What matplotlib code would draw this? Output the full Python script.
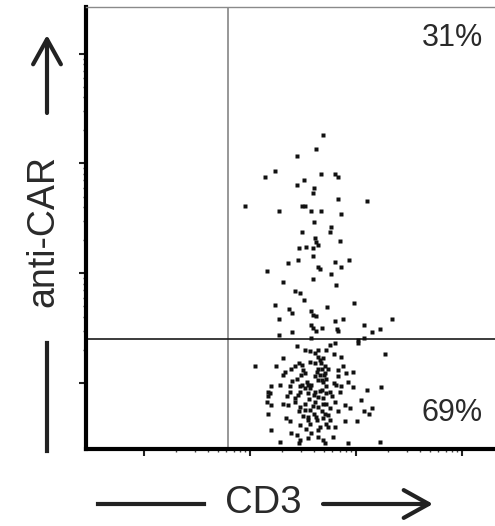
import numpy as np
import matplotlib
matplotlib.use("Agg")
import matplotlib.pyplot as plt
from matplotlib.lines import Line2D

# ---- data (log10 fluorescence intensity) ----
cd3_upper_log10 = [3.69,3.62,3.44,3.14,3.24,3.67,3.80,3.83,3.51,3.44,3.60,3.59,2.95,3.83,4.10,3.27,3.49,3.52,3.58,3.67,
                   3.86,3.60,3.76,3.75,3.49,3.61,3.62,3.64,3.85,3.46,3.53,3.59,3.59,3.36,3.45,3.80,3.93,3.86,3.16,3.64,
                   3.66,3.76,3.31,3.59,3.81,3.42,3.47,3.51,3.98,3.24,3.37,3.40,3.58,3.59,3.62,3.73,3.27,3.58,3.59,3.62,
                   3.68,3.80,3.88,4.08,4.34,3.82,3.83,4.15,4.23,3.27,3.40,3.58,4.08]
car_upper_log10 = [4.26,4.13,4.07,3.88,3.93,3.90,3.90,3.88,3.85,3.80,3.78,3.73,3.61,3.68,3.66,3.57,3.61,3.61,3.57,3.57,
                   3.54,3.47,3.42,3.38,3.38,3.32,3.28,3.26,3.29,3.23,3.24,3.23,3.16,3.09,3.12,3.10,3.12,3.06,3.02,3.06,
                   3.04,2.99,2.92,2.95,2.89,2.84,2.82,2.76,2.73,2.71,2.67,2.64,2.66,2.62,2.61,2.69,2.58,2.53,2.50,2.47,
                   2.50,2.56,2.58,2.53,2.58,2.49,2.47,2.46,2.49,2.44,2.46,2.41,2.41]

cd3_lower_log10 = [3.44,3.52,3.57,3.61,3.64,3.31,3.05,3.25,3.39,3.42,3.49,3.50,3.52,3.57,3.61,3.66,3.68,3.31,3.44,3.61,
                   3.66,3.20,3.28,3.38,3.47,3.52,3.57,3.58,3.68,3.68,3.17,
                   3.80,3.75,3.72,4.02,3.86,4.27,3.69,3.67,3.71,3.74,3.71,3.72,3.69,3.83,3.88,3.83,3.97,3.92,3.81,3.97,
                   4.10,4.24,3.72,3.75,
                   3.19,3.17,3.38,3.47,3.55,3.61,3.20,3.17,3.31,3.36,3.42,3.47,3.52,3.46,3.55,3.60,3.63,3.57,3.66,3.68,
                   3.69,3.64,3.38,3.47,3.20,3.39,3.44,3.28,3.47,3.55,3.58,3.64,3.69,
                   3.72,3.77,3.69,3.72,3.85,3.71,3.74,3.69,3.75,3.83,3.90,3.94,4.05,4.08,4.12,4.15,4.01,3.72,3.74,3.78,
                   3.71,3.92,4.23,
                   3.16,3.46,4.02,3.64,3.79,3.46,3.64,3.91,3.49,3.55,3.60,3.64,3.79,3.86,3.42,3.52,3.57,3.61,3.64,3.80,
                   3.55,3.64,3.75,3.80,3.90,
                   3.33,3.40,3.48,3.54,3.63,3.70,3.35,3.45,3.56,3.66,3.50,3.59,3.34,3.53,3.62]
car_lower_log10 = [2.34,2.30,2.29,2.27,2.30,2.23,2.15,2.15,2.13,2.15,2.16,2.12,2.09,2.19,2.18,2.21,2.13,2.07,2.04,2.06,
                   2.07,1.97,1.98,1.97,1.97,1.95,1.95,1.98,2.03,1.94,1.92,
                   2.36,2.35,2.30,2.36,2.24,2.26,2.23,2.18,2.15,2.13,2.09,2.04,2.01,2.12,2.15,2.06,2.10,2.01,1.98,1.96,
                   1.94,1.96,1.97,1.92,
                   1.91,1.88,1.92,1.92,1.91,1.92,1.80,1.72,1.81,1.80,1.83,1.78,1.75,1.74,1.69,1.72,1.66,1.63,1.60,1.74,
                   1.81,1.87,1.65,1.62,1.57,1.54,1.53,1.46,1.48,1.50,1.54,1.51,1.48,
                   1.91,1.88,1.86,1.81,1.92,1.72,1.71,1.68,1.77,1.74,1.80,1.77,1.84,1.74,1.72,1.77,1.65,1.63,1.60,1.51,
                   1.45,1.45,1.46,
                   1.83,1.45,2.39,2.24,2.26,2.18,2.13,2.09,1.98,1.98,1.89,2.03,2.00,1.97,1.86,1.81,1.75,1.83,1.78,1.83,
                   1.66,1.57,1.66,1.60,1.65,
                   2.10,2.02,2.07,2.01,2.10,2.07,1.88,1.89,1.85,1.93,1.70,1.79,1.68,1.58,1.69]

gate_cd3_log10 = 2.79
gate_car_log10 = 2.40
quadrant_labels = ["31%", "69%"]
x_label = "CD3"
y_label = "anti-CAR"
xlim_log10 = (1.453, 5.330)
ylim_log10 = (1.398, 5.426)

W, H = 495, 526
fig = plt.figure(figsize=(W / 100, H / 100), dpi=100)
ax = fig.add_axes([86 / W, 1 - 449 / H, (497 - 86) / W, (449 - 7) / H])
ax.set_xscale("log")
ax.set_yscale("log")
ax.set_xlim(10 ** xlim_log10[0], 10 ** xlim_log10[1])
ax.set_ylim(10 ** ylim_log10[0], 10 ** ylim_log10[1])

x_all = 10 ** np.array(cd3_upper_log10 + cd3_lower_log10)
y_all = 10 ** np.array(car_upper_log10 + car_lower_log10)
ax.plot(x_all, y_all, linestyle="none", marker="s", markersize=2.9,
        markerfacecolor="#111111", markeredgecolor="none", zorder=3)

ax.axvline(10 ** gate_cd3_log10, color="#7a7a7a", lw=1.1, zorder=2)
ax.axhline(10 ** gate_car_log10, color="#1a1a1a", lw=1.2, zorder=2)

# spines
for s in ["left", "bottom"]:
    ax.spines[s].set_linewidth(3.0)
    ax.spines[s].set_color("#000000")
ax.spines["top"].set_linewidth(1.0)
ax.spines["top"].set_color("#8a8a8a")
ax.spines["right"].set_visible(False)

# ticks
major = [1e2, 1e3, 1e4, 1e5]
ax.set_xticks(major)
ax.set_yticks(major)
minor_x = [m * 10 ** d for d in range(2, 5) for m in range(2, 10)]
minor_y = [m * 10 ** d for d in range(2, 5) for m in range(2, 10)]
ax.set_xticks(minor_x, minor=True)
ax.set_yticks(minor_y, minor=True)
ax.tick_params(which="major", direction="out", length=5, width=1.5, color="#222222",
               labelbottom=False, labelleft=False)
ax.tick_params(which="minor", direction="out", length=2.5, width=1.0, color="#444444",
               labelbottom=False, labelleft=False)

txt_color = "#2a2a2a"
ax.text(0.8905, 0.930, quadrant_labels[0], transform=ax.transAxes, ha="center", va="center",
        fontsize=22, color=txt_color, family=["Liberation Sans", "DejaVu Sans"])
ax.text(0.8905, 0.0814, quadrant_labels[1], transform=ax.transAxes, ha="center", va="center",
        fontsize=22, color=txt_color, family=["Liberation Sans", "DejaVu Sans"])

# axis labels with arrows
fig.text(263.5 / W, 1 - 503 / H, x_label, ha="center", va="center", fontsize=27.5,
         color=txt_color, family=["Liberation Sans", "DejaVu Sans"])
fig.text(43 / W, 1 - 231 / H, y_label, ha="center", va="center", rotation=90, fontsize=27,
         color=txt_color, family=["Liberation Sans", "DejaVu Sans"])

def fp(px, py):
    return (px / W, 1 - py / H)

lw_arrow = 3.0
fig.add_artist(Line2D([fp(98, 504)[0], fp(204, 504)[0]], [fp(98, 504)[1]] * 2,
                      transform=fig.transFigure, color="#222222", lw=lw_arrow))
fig.add_artist(Line2D([fp(47, 343)[0]] * 2, [fp(47, 343)[1], fp(47, 451)[1]],
                      transform=fig.transFigure, color="#222222", lw=lw_arrow))
arrow_props = dict(arrowstyle="->,head_length=0.9,head_width=0.5", lw=lw_arrow,
                   color="#222222", mutation_scale=20, shrinkA=0, shrinkB=0)
ax.annotate("", xy=fp(433, 504), xytext=fp(323, 504), xycoords="figure fraction",
            textcoords="figure fraction", arrowprops=arrow_props, annotation_clip=False)
ax.annotate("", xy=fp(47, 35), xytext=fp(47, 113), xycoords="figure fraction",
            textcoords="figure fraction", arrowprops=arrow_props, annotation_clip=False)

fig.savefig("out.png", dpi=100)
